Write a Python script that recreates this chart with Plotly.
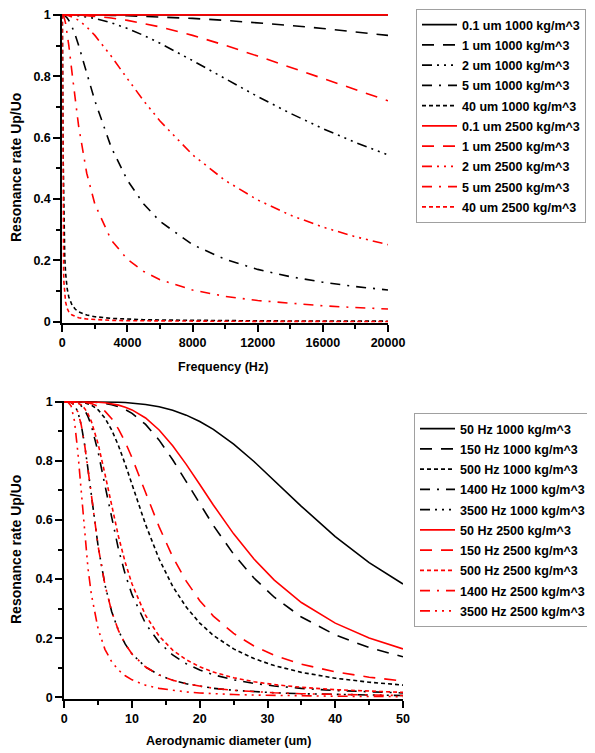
import plotly.graph_objects as go

# ---------------- Top chart data (frequency in Hz) ----------------
freq = [0, 10, 20, 30, 50, 75, 100, 150, 200, 300, 400, 600, 800, 1000, 1500, 2000,
        3000, 4000, 5000, 6000, 8000, 10000, 12000, 14000, 16000, 18000, 20000]

up_01um_1000 = [1.0] * 27
up_1um_1000 = [1.0, 1.0, 1.0, 1.0, 1.0, 1.0, 1.0, 1.0, 1.0, 1.0, 1.0, 1.0, 0.9999, 0.9998, 0.9996, 0.9993,
               0.9983, 0.9970, 0.9954, 0.9934, 0.9883, 0.9819, 0.9742, 0.9654, 0.9555, 0.9447, 0.9330]
up_2um_1000 = [1.0, 1.0, 1.0, 1.0, 1.0, 1.0, 1.0, 0.9999, 0.9998, 0.9997, 0.9995, 0.9989, 0.9981, 0.9970, 0.9934, 0.9883,
               0.9742, 0.9555, 0.9329, 0.9074, 0.8508, 0.7916, 0.7336, 0.6791, 0.6292, 0.5841, 0.5436]
up_5um_1000 = [1.0, 1.0, 1.0, 0.9999, 0.9997, 0.9993, 0.9988, 0.9974, 0.9954, 0.9897, 0.9819, 0.9606, 0.9331, 0.9008, 0.8104, 0.7199,
               0.5688, 0.4604, 0.3833, 0.3268, 0.2510, 0.2031, 0.1704, 0.1466, 0.1286, 0.1145, 0.1032]
up_40um_1000 = [1.0, 0.9554, 0.8507, 0.7334, 0.5434, 0.3962, 0.3079, 0.2109, 0.1597, 0.1073, 0.0806, 0.0539, 0.0404, 0.0324, 0.0216, 0.0162,
                0.0108, 0.0081, 0.0065, 0.0054, 0.0040, 0.0032, 0.0027, 0.0023, 0.0020, 0.0018, 0.0016]
up_01um_2500 = [1.0] * 27
up_1um_2500 = [1.0, 1.0, 1.0, 1.0, 1.0, 1.0, 1.0, 1.0, 0.9999, 0.9999, 0.9998, 0.9996, 0.9993, 0.9988, 0.9974, 0.9954,
               0.9897, 0.9819, 0.9722, 0.9606, 0.9331, 0.9008, 0.8656, 0.8289, 0.7919, 0.7553, 0.7199]
up_2um_2500 = [1.0, 1.0, 1.0, 1.0, 1.0, 1.0, 0.9998, 0.9996, 0.9993, 0.9983, 0.9970, 0.9934, 0.9883, 0.9819, 0.9606, 0.9330,
               0.8655, 0.7917, 0.7198, 0.6538, 0.5438, 0.4602, 0.3966, 0.3473, 0.3082, 0.2768, 0.2509]
up_5um_2500 = [1.0, 0.9999, 0.9997, 0.9993, 0.9982, 0.9959, 0.9928, 0.9840, 0.9721, 0.9403, 0.9007, 0.8101, 0.7197, 0.6383, 0.4838, 0.3830,
               0.2664, 0.2030, 0.1636, 0.1369, 0.1031, 0.0826, 0.0689, 0.0591, 0.0517, 0.0460, 0.0414]
up_40um_2500 = [1.0, 0.7919, 0.5441, 0.3969, 0.2511, 0.1705, 0.1286, 0.0861, 0.0647, 0.0432, 0.0324, 0.0216, 0.0162, 0.0130, 0.0086, 0.0065,
                0.0043, 0.0032, 0.0026, 0.0022, 0.0016, 0.0013, 0.0011, 0.0009, 0.0008, 0.0007, 0.0006]

top_names = ["0.1 um 1000 kg/m^3", "1 um 1000 kg/m^3", "2 um 1000 kg/m^3", "5 um 1000 kg/m^3",
             "40 um 1000 kg/m^3", "0.1 um 2500 kg/m^3", "1 um 2500 kg/m^3", "2 um 2500 kg/m^3",
             "5 um 2500 kg/m^3", "40 um 2500 kg/m^3"]

# ---------------- Bottom chart data (diameter in um) ----------------
diam = [0, 0.5, 1, 1.5, 2, 2.5, 3, 3.5, 4, 5, 6, 7, 8, 9, 10, 12, 14, 16, 18, 20,
        22, 25, 28, 31, 35, 40, 45, 50]

up_50hz_1000 = [1, 1, 1, 1, 1, 1, 1, 0.9999, 0.9999, 0.9997, 0.9994, 0.9989, 0.9981, 0.9970, 0.9954, 0.9905,
                0.9826, 0.9709, 0.9545, 0.9330, 0.9062, 0.8565, 0.7977, 0.7334, 0.6461, 0.5439, 0.4557, 0.3831]
up_150hz_1000 = [1, 1, 1, 1, 0.9999, 0.9998, 0.9997, 0.9994, 0.9989, 0.9974, 0.9946, 0.9901, 0.9833, 0.9736, 0.9606, 0.9231,
                 0.8699, 0.8036, 0.7296, 0.6539, 0.5813, 0.4840, 0.4034, 0.3385, 0.2716, 0.2111, 0.1682, 0.1369]
up_500hz_1000 = [1, 1, 1, 0.9998, 0.9993, 0.9982, 0.9962, 0.9931, 0.9883, 0.9721, 0.9447, 0.9041, 0.8510, 0.7880, 0.7198, 0.5843,
                 0.4677, 0.3754, 0.3051, 0.2510, 0.2095, 0.1637, 0.1311, 0.1073, 0.0843, 0.0647, 0.0511, 0.0414]
up_1400hz_1000 = [1, 1, 0.9996, 0.9982, 0.9942, 0.9861, 0.9717, 0.9494, 0.9180, 0.8289, 0.7171, 0.6030, 0.5009, 0.4158, 0.3472, 0.2490,
                  0.1857, 0.1432, 0.1136, 0.0922, 0.0763, 0.0591, 0.0472, 0.0385, 0.0302, 0.0231, 0.0183, 0.0148]
up_3500hz_1000 = [1, 0.9999, 0.9977, 0.9887, 0.9654, 0.9213, 0.8546, 0.7707, 0.6794, 0.5099, 0.3806, 0.2894, 0.2255, 0.1799, 0.1466, 0.1024,
                  0.0754, 0.0578, 0.0457, 0.0370, 0.0306, 0.0237, 0.0189, 0.0154, 0.0121, 0.0093, 0.0073, 0.0059]
up_50hz_2500 = [1, 1, 1, 1, 1, 0.9999, 0.9998, 0.9996, 0.9993, 0.9982, 0.9962, 0.9931, 0.9883, 0.9815, 0.9721, 0.9450,
                0.9042, 0.8510, 0.7880, 0.7198, 0.6507, 0.5529, 0.4676, 0.3963, 0.3207, 0.2509, 0.2007, 0.1637]
up_150hz_2500 = [1, 1, 1, 0.9999, 0.9996, 0.9990, 0.9979, 0.9961, 0.9934, 0.9840, 0.9678, 0.9425, 0.9075, 0.8628, 0.8103, 0.6926,
                 0.5765, 0.4750, 0.3929, 0.3268, 0.2747, 0.2160, 0.1737, 0.1424, 0.1122, 0.0861, 0.0681, 0.0552]
up_500hz_2500 = [1, 1, 0.9997, 0.9985, 0.9954, 0.9888, 0.9773, 0.9590, 0.9330, 0.8565, 0.7553, 0.6462, 0.5440, 0.4558, 0.3831, 0.2769,
                 0.2070, 0.1599, 0.1270, 0.1032, 0.0854, 0.0662, 0.0528, 0.0431, 0.0339, 0.0259, 0.0205, 0.0166]
up_1400hz_2500 = [1, 0.9999, 0.9977, 0.9887, 0.9654, 0.9213, 0.8546, 0.7707, 0.6794, 0.5099, 0.3806, 0.2894, 0.2255, 0.1799, 0.1466, 0.1024,
                  0.0754, 0.0578, 0.0457, 0.0370, 0.0306, 0.0237, 0.0189, 0.0154, 0.0121, 0.0093, 0.0073, 0.0059]
up_3500hz_2500 = [1, 0.9991, 0.9861, 0.9349, 0.8289, 0.6880, 0.5498, 0.4355, 0.3472, 0.2307, 0.1624, 0.1201, 0.0922, 0.0730, 0.0591, 0.0411,
                  0.0302, 0.0231, 0.0183, 0.0148, 0.0122, 0.0095, 0.0076, 0.0062, 0.0048, 0.0037, 0.0029, 0.0024]

bottom_names = ["50 Hz 1000 kg/m^3", "150 Hz 1000 kg/m^3", "500 Hz 1000 kg/m^3", "1400 Hz 1000 kg/m^3",
                "3500 Hz 1000 kg/m^3", "50 Hz 2500 kg/m^3", "150 Hz 2500 kg/m^3", "500 Hz 2500 kg/m^3",
                "1400 Hz 2500 kg/m^3", "3500 Hz 2500 kg/m^3"]

# ---------------- styles ----------------
SOLID = "solid"
LONGDASH = "12px,9px"
DASHDOTDOT = "10px,5px,2px,5px,2px,5px,2px,5px"
DASHDOT = "10px,7px,2px,7px"
SHORTDASH = "4px,3px"
BLACK = "#000000"
RED = "#ff0000"

top_series = [up_01um_1000, up_1um_1000, up_2um_1000, up_5um_1000, up_40um_1000,
              up_01um_2500, up_1um_2500, up_2um_2500, up_5um_2500, up_40um_2500]
top_dash = [SOLID, LONGDASH, DASHDOTDOT, DASHDOT, SHORTDASH] * 2
bottom_series = [up_50hz_1000, up_150hz_1000, up_500hz_1000, up_1400hz_1000, up_3500hz_1000,
                 up_50hz_2500, up_150hz_2500, up_500hz_2500, up_1400hz_2500, up_3500hz_2500]
bottom_dash = [SOLID, LONGDASH, SHORTDASH, DASHDOT, DASHDOTDOT] * 2
colors = [BLACK] * 5 + [RED] * 5

FONT = "Liberation Sans, Arial, sans-serif"

fig = go.Figure()
for i, (name, ys) in enumerate(zip(top_names, top_series)):
    fig.add_trace(go.Scatter(x=freq, y=ys, name=name, mode="lines", xaxis="x", yaxis="y",
                             line=dict(color=colors[i], width=1.6, dash=top_dash[i]),
                             legend="legend", legendgroup="t%d" % i))
for i, (name, ys) in enumerate(zip(bottom_names, bottom_series)):
    fig.add_trace(go.Scatter(x=diam, y=ys, name=name, mode="lines", xaxis="x2", yaxis="y2",
                             line=dict(color=colors[i], width=1.6, dash=bottom_dash[i]),
                             legend="legend2", legendgroup="b%d" % i))

# The page body has an 8px default margin, so the figure is drawn 8px in from
# the top-left corner; sizes and positions below compensate for that.
OFF = 8
W, H = 595 - OFF, 753 - OFF


def px(x):
    return (x - OFF) / W


def py(y):
    return 1 - (y - OFF) / H


tickfont = dict(family=FONT, size=12.5, color="black", weight="bold")
axis_common = dict(showline=True, linecolor="black", linewidth=2, ticks="outside", ticklen=7,
                   tickwidth=2, tickcolor="black", showgrid=False, zeroline=False,
                   tickfont=tickfont, mirror=False, automargin=False,
                   ticklabeloverflow="allow")
minor = dict(ticks="outside", ticklen=4, tickwidth=2, tickcolor="black", showgrid=False)

legend_common = dict(font=dict(family=FONT, size=12.5, color="black", weight="bold"),
                     bgcolor="white", bordercolor="#a0a0a0", borderwidth=1,
                     xanchor="left", yanchor="top", tracegroupgap=1, traceorder="grouped",
                     xref="container", yref="container", itemwidth=35)

YPAD = 0.004
fig.update_layout(
    width=W, height=H, margin=dict(l=0, r=0, t=0, b=0, autoexpand=False),
    paper_bgcolor="white", plot_bgcolor="white", showlegend=True,
    xaxis=dict(domain=[px(62.3), px(388)], range=[0, 20000], dtick=4000, tickformat="d",
               anchor="y", minor=dict(dtick=2000, **minor), **axis_common),
    yaxis=dict(domain=[py(322.9), py(13.6)], range=[-YPAD, 1 + YPAD], tick0=0, dtick=0.2,
               anchor="x", minor=dict(dtick=0.1, **minor), **axis_common),
    xaxis2=dict(domain=[px(64.3), px(403)], range=[0, 50], dtick=10,
                anchor="y2", minor=dict(dtick=5, **minor), **axis_common),
    yaxis2=dict(domain=[py(698.5), py(400.5)], range=[-YPAD, 1 + YPAD], tick0=0, dtick=0.2,
                anchor="x2", minor=dict(dtick=0.1, **minor), **axis_common),
    legend=dict(x=px(416), y=py(9), **legend_common),
    legend2=dict(x=px(414), y=py(413), **legend_common),
)

xtitle_font = dict(family=FONT, size=12.5, color="black", weight="bold")
ytitle_font = dict(family=FONT, size=14, color="black", weight="bold")
annos = [
    dict(text="Frequency (Hz)", x=px(223), y=py(367), font=xtitle_font),
    dict(text="Aerodynamic diameter (um)", x=px(228), y=py(741), font=xtitle_font),
    dict(text="Resonance rate Up/Uo", x=px(16), y=py(168), textangle=-90, font=ytitle_font),
    dict(text="Resonance rate Up/Uo", x=px(16), y=py(550), textangle=-90, font=ytitle_font),
]
for a in annos:
    fig.add_annotation(xref="paper", yref="paper", showarrow=False,
                       xanchor="center", yanchor="middle", **a)

fig.write_html("out.html")
